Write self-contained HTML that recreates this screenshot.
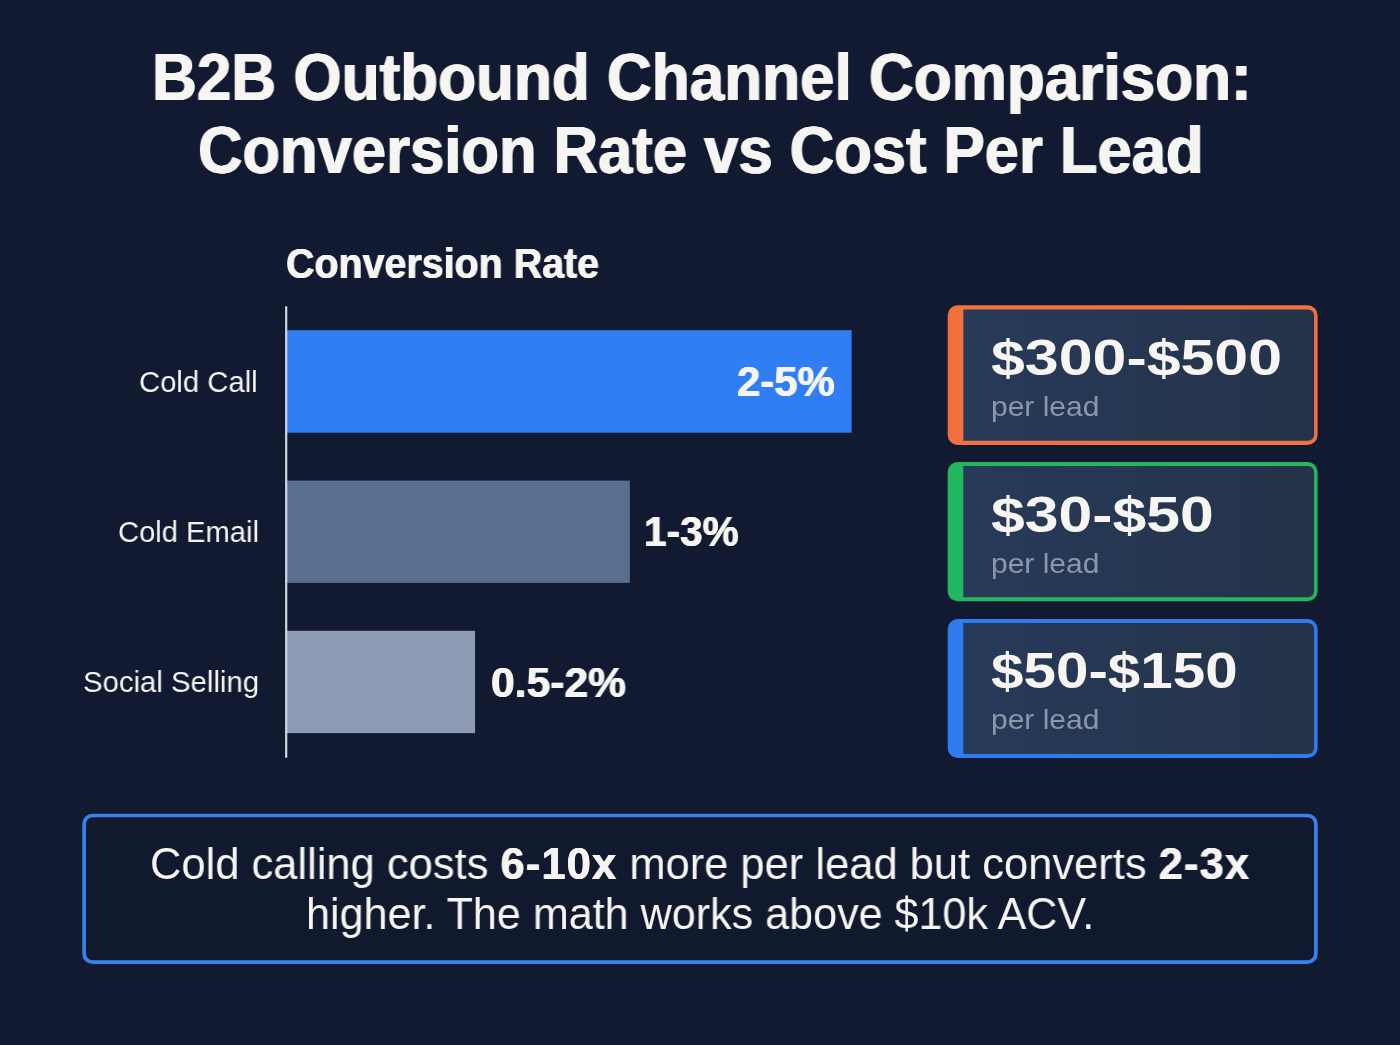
<!DOCTYPE html>
<html lang="en">
<head>
<meta charset="utf-8">
<title>B2B Outbound Channel Comparison: Conversion Rate vs Cost Per Lead</title>
<style>
html,body,h1,h2,p{margin:0;padding:0}
body{width:1400px;height:1045px;overflow:hidden;background:#121a32;font-family:"Liberation Sans", sans-serif;color:#f6f5f2;position:relative}
.t{will-change:transform;position:absolute;white-space:nowrap;line-height:1;transform-origin:0 0;margin:0;font-weight:400}
.t b{font-weight:700;letter-spacing:1.1px;text-shadow:.4px 0 0 currentColor,-.4px 0 0 currentColor}
</style>
</head>
<body>
<svg id="shapes" width="1400" height="1045" viewBox="0 0 1400 1045" style="position:absolute;left:0;top:0">
<defs><linearGradient id="cg" x1="0" y1="0" x2="1" y2="0"><stop offset="0" stop-color="#283a5a"/><stop offset="1" stop-color="#243349"/></linearGradient></defs>
<rect x="286" y="330.2" width="565.6" height="102.5" fill="#2f7ef4"/>
<rect x="286" y="480.6" width="343.9" height="102.3" fill="#5a6e90"/>
<rect x="286" y="630.8" width="189.1" height="102.3" fill="#8d9cb4"/>
<rect x="285.1" y="306" width="2.2" height="452" rx="1.1" fill="#d2d7e0"/>
<rect x="947.7" y="305.3" width="369.9" height="139.6" rx="10" fill="#f3703f"/><path d="M963.3 309.4H1308.1A6 6 0 0 1 1314.1 315.4V434.8A6 6 0 0 1 1308.1 440.8H963.3Z" fill="url(#cg)"/>
<rect x="947.7" y="462.0" width="369.9" height="139.3" rx="10" fill="#23b860"/><path d="M963.3 466.1H1308.1A6 6 0 0 1 1314.1 472.1V591.2A6 6 0 0 1 1308.1 597.2H963.3Z" fill="url(#cg)"/>
<rect x="947.7" y="619.0" width="369.9" height="139.0" rx="10" fill="#2f7cf0"/><path d="M963.3 623.1H1308.1A6 6 0 0 1 1314.1 629.1V747.9A6 6 0 0 1 1308.1 753.9H963.3Z" fill="url(#cg)"/>
<rect x="84.1" y="815.5" width="1231.8" height="146.6" rx="8.4" fill="#11192f" stroke="#3782ee" stroke-width="3.7"/>
</svg>
<h1><span class="t" id="t1" style="left:151.80px;top:44px;font-size:66.5px;font-weight:700;text-shadow:0.8px 0 0 currentColor,-0.8px 0 0 currentColor;transform:scaleX(0.9331);">B2B Outbound Channel Comparison:</span>
<span class="t" id="t2" style="left:198.00px;top:117px;font-size:66.5px;font-weight:700;text-shadow:0.8px 0 0 currentColor,-0.8px 0 0 currentColor;transform:scaleX(0.9255);">Conversion Rate vs Cost Per Lead</span></h1>
<h2 class="t" id="h" style="left:285.90px;top:242px;font-size:42.6px;font-weight:700;text-shadow:0.5px 0 0 currentColor,-0.5px 0 0 currentColor;transform:scaleX(0.9250);">Conversion Rate</h2>
<div class="t" id="l1" style="left:139.00px;top:367px;font-size:30px;transform:scaleX(0.9750);">Cold Call</div>
<div class="t" id="l2" style="left:118.00px;top:517px;font-size:30px;transform:scaleX(0.9718);">Cold Email</div>
<div class="t" id="l3" style="left:83.00px;top:667px;font-size:30px;transform:scaleX(0.9775);">Social Selling</div>
<div class="t" id="v1" style="left:737.00px;top:360px;font-size:42.8px;font-weight:700;text-shadow:0.5px 0 0 currentColor,-0.5px 0 0 currentColor;transform:scaleX(0.9796);">2-5%</div>
<div class="t" id="v2" style="left:644.00px;top:510px;font-size:42.8px;font-weight:700;text-shadow:0.5px 0 0 currentColor,-0.5px 0 0 currentColor;transform:scaleX(0.9480);">1-3%</div>
<div class="t" id="v3" style="left:491.00px;top:661px;font-size:42.8px;font-weight:700;text-shadow:0.5px 0 0 currentColor,-0.5px 0 0 currentColor;transform:scaleX(0.9955);">0.5-2%</div>
<div class="t" id="c1" style="left:990.60px;top:333px;font-size:50.7px;font-weight:700;transform:scaleX(1.2008);">$300-$500</div>
<div class="t" id="p1" style="left:990.80px;top:393px;font-size:27.5px;color:#8c97ab;transform:scaleX(1.0897);">per lead</div>
<div class="t" id="c2" style="left:990.60px;top:490px;font-size:50.7px;font-weight:700;transform:scaleX(1.1968);">$30-$50</div>
<div class="t" id="p2" style="left:990.80px;top:550px;font-size:27.5px;color:#8c97ab;transform:scaleX(1.0897);">per lead</div>
<div class="t" id="c3" style="left:990.60px;top:646px;font-size:50.7px;font-weight:700;transform:scaleX(1.1516);">$50-$150</div>
<div class="t" id="p3" style="left:990.80px;top:706px;font-size:27.5px;color:#8c97ab;transform:scaleX(1.0897);">per lead</div>
<p><span class="t" id="k1" style="left:149.60px;top:843px;font-size:43.6px;transform:scaleX(0.9976);">Cold calling costs <b>6-10x</b> more per lead but converts <b>2-3x</b></span>
<span class="t" id="k2" style="left:306.00px;top:893px;font-size:43.6px;transform:scaleX(0.9886);">higher. The math works above $10k ACV.</span></p>
</body>
</html>
